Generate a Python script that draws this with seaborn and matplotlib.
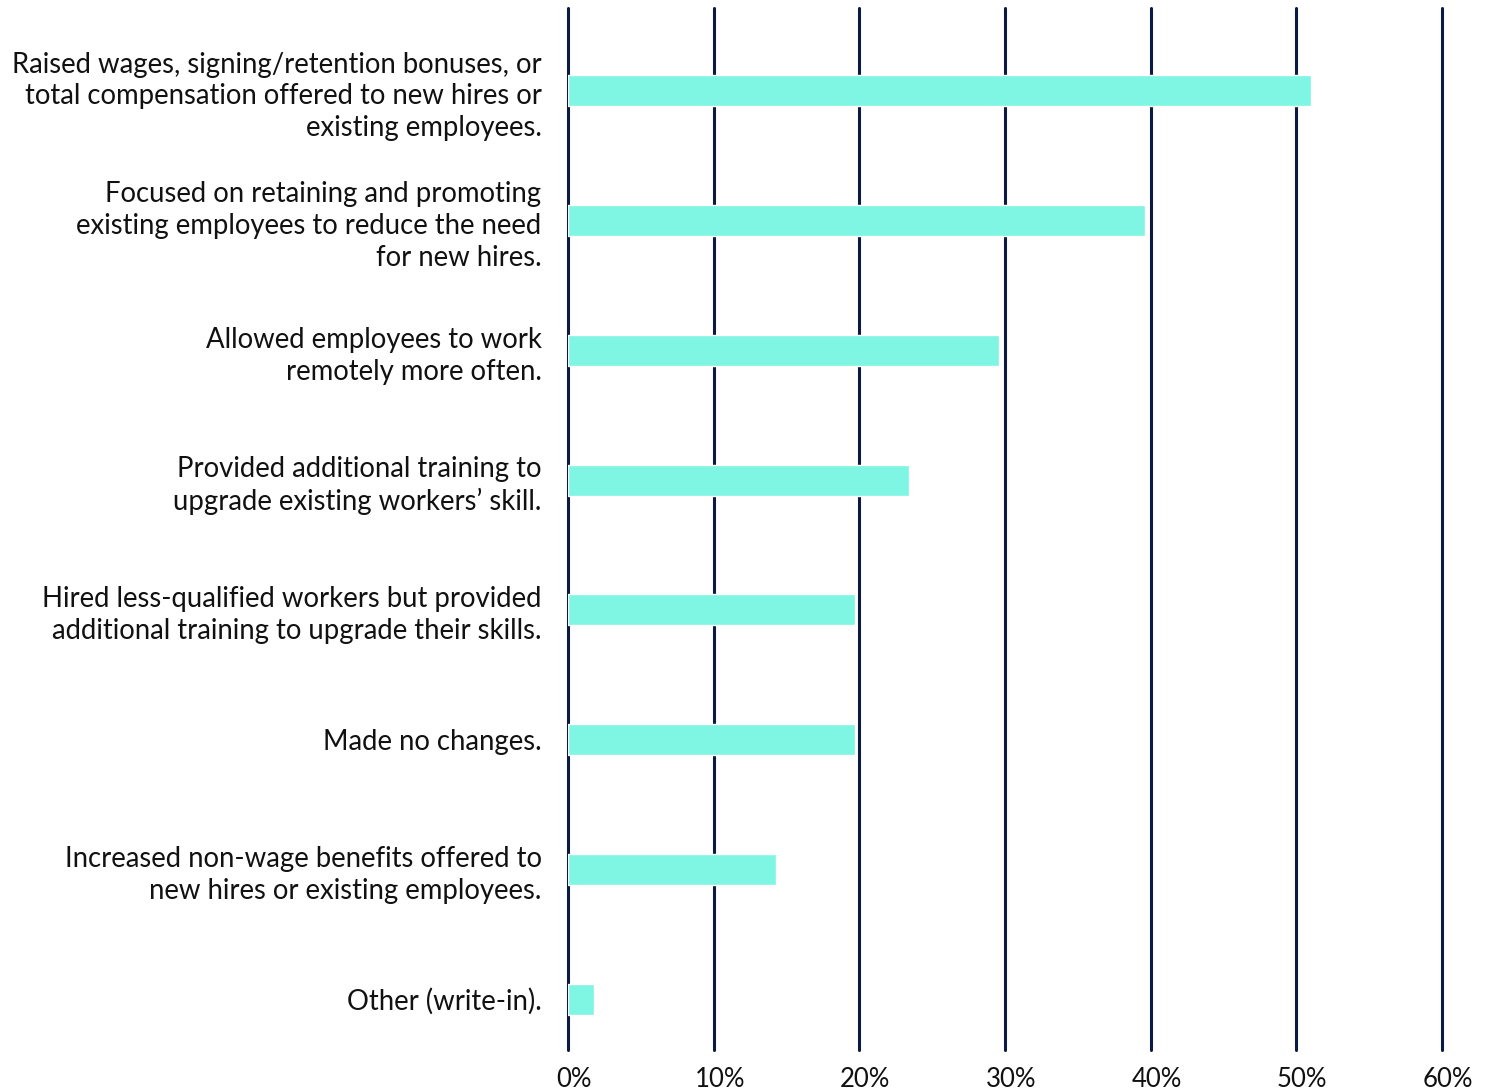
import numpy as np
import pandas as pd
import matplotlib
matplotlib.use("Agg")
import matplotlib.pyplot as plt
import matplotlib.transforms as mtransforms
import seaborn as sns

categories = [
    "Raised wages, signing/retention bonuses, or\ntotal compensation offered to new hires or\nexisting employees.",
    "Focused on retaining and promoting\nexisting employees to reduce the need\nfor new hires.",
    "Allowed employees to work\nremotely more often.",
    "Provided additional training to\nupgrade existing workers\u2019 skill.",
    "Hired less-qualified workers but provided\nadditional training to upgrade their skills.",
    "Made no changes.",
    "Increased non-wage benefits offered to\nnew hires or existing employees.",
    "Other (write-in).",
]
values = [51.0, 39.6, 29.6, 23.4, 19.7, 19.7, 14.3, 1.8]
xticks = [0, 10, 20, 30, 40, 50, 60]
xtick_labels = ["0%", "10%", "20%", "30%", "40%", "50%", "60%"]

df = pd.DataFrame({"cat": categories, "val": values})

sns.set_style("white")
plt.rcParams["font.family"] = ["Lato", "DejaVu Sans"]

fig = plt.figure(figsize=(14.89, 10.90), dpi=100)
ax = fig.add_axes([568 / 1489, 1 - 1050 / 1090, (1442 - 568) / 1489, (1050 - 8) / 1090])

# vertical gridlines
for x in xticks:
    ax.axvline(x, color="#0b1a40", linewidth=2.2, zorder=0, clip_on=False)

sns.barplot(data=df, x="val", y="cat", color="#7ff5e3", width=0.24,
            saturation=1, ax=ax, zorder=2)

ax.set_xlim(0, 60)
ax.set_ylim(7.392, -0.639)
ax.set_xticks(xticks)
ax.set_xticklabels(xtick_labels)
ax.set_xlabel("")
ax.set_ylabel("")
for s in ax.spines.values():
    s.set_visible(False)
ax.tick_params(axis="y", length=0, pad=19, labelsize=19.8, labelcolor="#111111")
ax.tick_params(axis="x", length=0, pad=12, labelsize=18.5, labelcolor="#111111")
for lab in ax.get_yticklabels():
    lab.set_horizontalalignment("right")
    lab.set_multialignment("right")
    lab.set_linespacing(1.27)
off = mtransforms.ScaledTranslation(6 / 100, 0, fig.dpi_scale_trans)
for lab in ax.get_xticklabels():
    lab.set_transform(lab.get_transform() + off)

fig.savefig("out.png", dpi=100)
